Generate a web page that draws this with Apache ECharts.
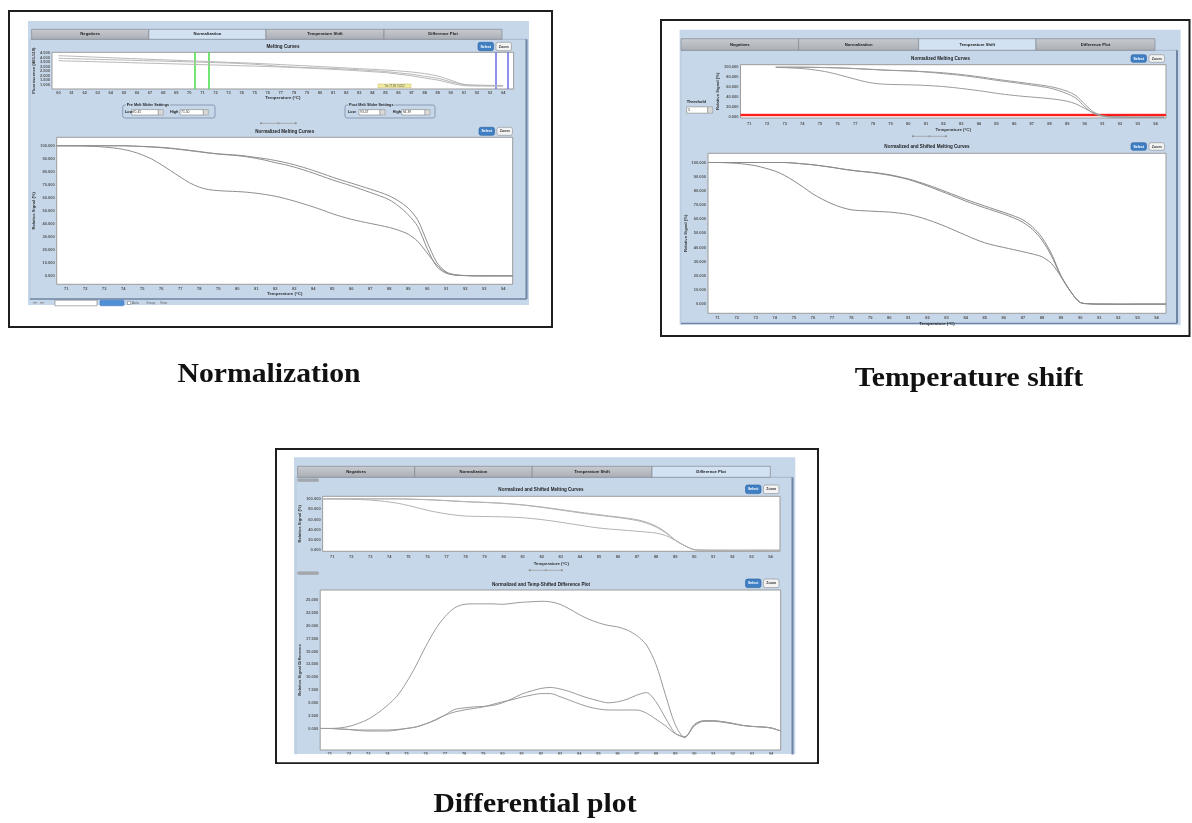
<!DOCTYPE html>
<html>
<head>
<meta charset="utf-8">
<script src="https://cdn.jsdelivr.net/npm/echarts@6/dist/echarts.min.js"></script>
<style>
  html, body { margin: 0; padding: 0; background: #ffffff; }
  #chart { width: 1192px; height: 823px; }
</style>
</head>
<body>
<div id="chart"></div>
<script>
// ---- data -------------------------------------------------------------
// raw melting curves (fluorescence), 60..94 °C
const rawTemps = [60,61,62,63,64,65,66,67,68,69,70,71,72,73,74,75,76,77,78,79,80,81,82,83,84,85,86,87,88,89,90,91,92,93,94];
const raw1 = [4.22,4.17,4.11,4.05,3.99,3.93,3.88,3.82,3.76,3.71,3.65,3.60,3.54,3.48,3.43,3.37,3.30,3.23,3.15,3.08,3.00,2.93,2.85,2.77,2.70,2.62,2.52,2.40,2.22,1.95,1.48,1.02,0.93,0.91,0.90];
const raw2 = [3.93,3.89,3.85,3.81,3.77,3.73,3.69,3.65,3.61,3.57,3.53,3.49,3.45,3.40,3.34,3.26,3.15,3.03,2.95,2.89,2.84,2.78,2.72,2.64,2.55,2.45,2.30,2.15,1.92,1.70,1.30,0.98,0.90,0.88,0.87];
const raw3 = [3.66,3.62,3.58,3.54,3.50,3.46,3.42,3.38,3.34,3.30,3.26,3.22,3.18,3.14,3.10,3.06,3.01,2.96,2.90,2.84,2.77,2.70,2.62,2.53,2.43,2.33,2.15,1.98,1.72,1.50,1.15,0.88,0.84,0.82,0.81];

// normalized / shifted / difference curves, 70.5..94.5 °C
const temps = [70.5,71,71.5,72,72.5,73,73.5,74,74.5,75,75.5,76,76.5,77,77.5,78,78.5,79,79.5,80,80.5,81,81.5,82,82.5,83,83.5,84,84.5,85,85.5,86,86.5,87,87.5,88,88.5,89,89.5,90,90.5,91,91.5,92,92.5,93,93.5,94,94.5];
const normA = [100,100,100,99.8,99.5,99.0,98.3,97.2,95.5,93.0,89.8,85.5,80.8,76.0,71.5,68.2,66.3,65.5,65.1,64.8,64.3,63.5,62.5,61.2,59.5,57.5,55.3,53.0,50.5,47.8,45.5,43.5,41.8,40.3,38.8,37.2,35.0,32.0,26.5,17.5,8.5,2.5,0.6,0.2,0,0,0.1,0,0];
const normB = [100,100,100,100,100,100,100,100,99.8,99.5,99.2,98.8,98.2,97.4,96.5,95.6,94.6,93.8,93.3,92.8,92.0,91.0,90.0,88.7,87.2,85.4,83.3,81.0,78.5,75.9,73.5,71.3,69.0,66.7,64.3,61.5,57.5,52.0,43.0,26.0,10.5,3.0,0.8,0.3,0.1,0,0,0,0];
const normC = [100,100,100,100,100,100,100,100,99.7,99.4,99.0,98.5,97.9,97.1,96.2,95.3,94.4,93.6,93.0,92.4,91.5,90.3,88.8,87.0,85.5,83.6,81.4,79.0,76.4,73.8,71.5,69.2,66.7,64.1,61.5,58.5,53.5,47.0,38.0,21.0,7.2,2.0,0.5,0.2,0,0,0,0,0];
const shiftA = [100,100,99.8,99.4,98.7,97.7,96.0,94.0,91.0,87.0,82.5,77.8,74.0,70.8,68.3,66.6,66.0,65.7,65.3,65.0,64.3,63.3,61.7,59.6,57.2,54.5,51.6,48.7,45.8,43.3,41.5,40.0,38.5,37.0,35.4,33.4,28.7,19.4,8.9,1.2,0.2,0,0,-0.2,-0.2,0,0,0,0];
const shiftB = [100,100,100,100,100,100,100,100,100,99.6,99.0,98.4,97.5,96.6,95.5,94.6,93.8,93.2,92.4,91.4,90.0,88.4,86.4,84.2,81.8,79.2,76.6,74.0,71.6,69.3,67.0,64.8,62.4,59.5,54.5,47.0,35.5,20.0,9.0,1.2,0.2,0,0,0,0,0,0,0,0];
const shiftC = [100,100,100,100,100,100,100,100,100,99.6,99.0,98.4,97.5,96.6,95.5,94.5,93.7,93.0,92.1,91.0,89.6,88.0,85.8,83.4,80.8,78.2,75.5,72.8,70.3,68.0,65.8,63.6,61.0,57.8,52.8,45.2,34.0,19.5,8.8,1.2,0.2,0,0,0,0,0,0,0,0];
const diffA = [0,0,0.1,0.4,1.0,1.8,3.0,4.5,6.3,9.0,12.3,16.0,19.3,21.8,23.5,24.2,24.3,24.3,24.3,24.2,24.4,24.6,24.7,24.8,24.7,24.2,23.3,22.2,21.3,20.6,20.1,19.8,19.2,18.1,16.3,12.5,6.5,0.8,-1.8,0.8,1.5,1.5,1.3,1.0,0.6,0.4,0.3,0.1,-0.5];
const diffB = [0,0,-0.1,-0.2,-0.3,-0.3,-0.3,-0.3,-0.2,0,0.3,0.9,1.6,2.6,3.7,4.0,4.2,4.3,4.5,5.0,5.8,6.7,7.3,7.8,8.0,7.7,7.2,6.5,5.9,5.4,5.0,5.2,5.7,6.5,7.0,5.2,2.0,-0.9,-1.7,0.6,1.5,1.5,1.3,1.0,0.6,0.4,0.3,0.1,-0.5];
const diffC = [0,0,-0.1,-0.2,-0.4,-0.5,-0.5,-0.5,-0.3,0,0.3,0.9,1.7,2.6,3.2,3.6,3.9,4.2,4.7,5.2,5.6,6.1,6.5,6.8,6.8,6.2,5.5,4.8,4.2,3.8,3.6,3.6,3.6,3.6,3.0,1.8,0.5,-1.0,-1.6,0.5,1.4,1.4,1.2,0.9,0.6,0.4,0.3,0.1,-0.5];

// tick labels
const rawTempTicks = [60,61,62,63,64,65,66,67,68,69,70,71,72,73,74,75,76,77,78,79,80,81,82,83,84,85,86,87,88,89,90,91,92,93,94];
const tempTicks = [71,72,73,74,75,76,77,78,79,80,81,82,83,84,85,86,87,88,89,90,91,92,93,94];
const rawSignalTicks = [1.0,1.5,2.0,2.5,3.0,3.5,4.0,4.5];
const signalTicks = [0,10,20,30,40,50,60,70,80,90,100];
const signalTicksCoarse = [0,20,40,60,80,100];
const diffTicks = [0,2.5,5,7.5,10,12.5,15,17.5,20,22.5,25];

// settings shown in the panels
const preMelt = [70.45, 71.50];
const postMelt = [93.47, 94.39];
const threshold = 5;
const tabNames = ['Negatives', 'Normalization', 'Temperature Shift', 'Difference Plot'];
const captions = ['Normalization', 'Temperature shift', 'Differential plot'];

// ---- helpers ----------------------------------------------------------
const UI_FONT = '"Liberation Sans", Arial, sans-serif';
const PANEL_BLUE = '#c6d7ea';
const g = [];
function R(x, y, w, h, fill, stroke, lw, z, r) {
  g.push({ type: 'rect', silent: true, z: z == null ? 1 : z,
    shape: { x, y, width: w, height: h, r: r || 0 },
    style: { fill: fill || 'transparent', stroke: stroke || null, lineWidth: lw || 0 } });
}
function T(x, y, text, size, opt) {
  opt = opt || {};
  const st = { text, fill: opt.color || '#222',
    font: (opt.weight || 'bold') + ' ' + size + 'px ' + (opt.family || UI_FONT),
    textAlign: opt.align || 'left', textVerticalAlign: opt.valign || 'middle' };
  if (opt.bg) { st.backgroundColor = opt.bg; st.padding = [0, 1]; }
  g.push({ type: 'text', silent: true, z: opt.z == null ? 4 : opt.z, x, y, style: st });
}
function L(x1, y1, x2, y2, stroke, lw, z) {
  g.push({ type: 'line', silent: true, z: z == null ? 2 : z, shape: { x1, y1, x2, y2 }, style: { stroke, lineWidth: lw } });
}
function buttons(x, y, h) {
  R(x, y, 15.5, h, '#3f7fc4', '#2c5f98', 0.6, 4, 2);
  T(x + 7.75, y + h / 2, 'Select', 3.6, { color: '#ffffff', align: 'center' });
  R(x + 18, y, 15.5, h, '#f3f3f3', '#8a8a8a', 0.6, 4, 2);
  T(x + 25.75, y + h / 2, 'Zoom', 3.6, { color: '#333', align: 'center' });
}
function splitter(x1, x2, y) {
  L(x1, y, x2, y, '#aeb2b8', 1.2, 3);
  R(x1, y - 1, 2, 2, '#8c8c8c', null, 0, 4, 1);
  R(x2 - 2, y - 1, 2, 2, '#8c8c8c', null, 0, 4, 1);
  R((x1 + x2) / 2 - 1, y - 1, 2, 2, '#999', null, 0, 4, 1);
}

// ---- panel chrome -----------------------------------------------------
const panels = [
  { frame: [9, 11, 543, 316], blue: [28, 21, 501, 284], tabY: 29.3, tabH: 10,
    tabX: [31.6, 148.8, 266, 384, 502], sel: 1, content: [30, 39.3, 496.5, 259.7] },
  { frame: [661, 20, 528.5, 316], blue: [679.6, 29.7, 501, 295.3], tabY: 38.7, tabH: 11.6,
    tabX: [681, 798.6, 918.6, 1036, 1155], sel: 2, content: [681, 50.3, 496, 273] },
  { frame: [276, 449, 542, 314], blue: [294, 457.3, 501.3, 296.7], tabY: 466.3, tabH: 11,
    tabX: [297.6, 414.7, 532.2, 652, 770.3], sel: 3, content: [296, 477.3, 496.5, 280] }
];
panels.forEach(function (p) {
  R(p.frame[0], p.frame[1], p.frame[2], p.frame[3], '#ffffff', '#1e1e1e', 2, 0);
  R(p.blue[0], p.blue[1], p.blue[2], p.blue[3], PANEL_BLUE, null, 0, 1);
  const c = p.content;
  L(c[0], c[1], c[0] + c[2], c[1], '#9fb1c8', 0.8, 2);
  L(c[0] + c[2], c[1], c[0] + c[2], c[1] + c[3], '#6f84a3', 2, 2);
  L(c[0], c[1], c[0], c[1] + c[3], '#b3c3d6', 0.8, 2);
  for (let i = 0; i < 4; i++) {
    const x = p.tabX[i], w = p.tabX[i + 1] - x;
    const fill = i === p.sel ? '#d2e2f2' : { type: 'linear', x: 0, y: 0, x2: 0, y2: 1,
      colorStops: [{ offset: 0, color: '#c8cbd0' }, { offset: 1, color: '#aaaeb4' }] };
    R(x, p.tabY, w, p.tabH, fill, '#858a92', 0.7, 2);
    T(x + w / 2, p.tabY + p.tabH / 2, tabNames[i], 4.2, { align: 'center', color: '#1c1c1c' });
  }
});
// bottom of the normalization panel: frame line and toolbar
L(30, 299, 526.5, 299, '#6f84a3', 1.5, 2);
L(33, 302.8, 37, 302.8, '#8a8a8a', 1, 3);
L(40, 302.8, 44, 302.8, '#8a8a8a', 1, 3);
R(55, 300.2, 42, 5.6, '#ffffff', '#7a7a7a', 0.6, 3);
R(100, 300.2, 24, 5.6, '#4f8fd6', '#3b74b5', 0.5, 3, 1);
R(127.5, 301.3, 3.2, 3.2, '#ffffff', '#666', 0.5, 3);
T(132, 302.8, 'Auto', 3.4, { color: '#666', weight: 'normal' });
T(146, 302.8, 'Group', 3.4, { color: '#666', weight: 'normal' });
T(160, 302.8, 'View', 3.4, { color: '#666', weight: 'normal' });
// shift panel bottom edge
L(681, 323.3, 1177, 323.3, '#6f84a3', 1.2, 2);
// diff panel collapse handles
R(297.6, 478.8, 21, 2.6, '#a7a9ad', '#8d9096', 0.4, 3, 1);
R(297.6, 571.8, 21, 2.6, '#a7a9ad', '#8d9096', 0.4, 3, 1);

// chart titles
T(283, 46.7, 'Melting Curves', 4.6, { align: 'center' });
T(284.7, 132, 'Normalized Melting Curves', 4.6, { align: 'center' });
T(940.6, 58.7, 'Normalized Melting Curves', 4.6, { align: 'center' });
T(927, 146.7, 'Normalized and Shifted Melting Curves', 4.6, { align: 'center' });
T(541, 489.7, 'Normalized and Shifted Melting Curves', 4.6, { align: 'center' });
T(541, 584.3, 'Normalized and Temp-Shifted Difference Plot', 4.6, { align: 'center' });

// select / zoom buttons
buttons(478, 42.3, 8.4);
buttons(479, 127.3, 8);
buttons(1131, 54.7, 7.6);
buttons(1131, 142.7, 7.6);
buttons(745.5, 485, 8.6);
buttons(745.5, 579, 8.6);

// slider setting boxes (normalization)
function meltBox(x, w, title, vals, lowX, inX, inW, highX, in2X, in2W) {
  R(x, 105, w, 13, null, '#7b8ca5', 0.8, 2, 2);
  T(x + 3, 105, title, 3.8, { bg: PANEL_BLUE });
  T(lowX, 112.3, 'Low', 3.8);
  R(inX, 109.6, inW, 5.4, '#ffffff', '#7f7f7f', 0.6, 3);
  T(inX + 1, 112.3, vals[0].toFixed(2), 3.4, { weight: 'normal', color: '#333' });
  R(inX + inW, 109.6, 5, 5.4, '#d8d8d8', '#8a8a8a', 0.5, 3);
  T(highX, 112.3, 'High', 3.8);
  R(in2X, 109.6, in2W, 5.4, '#ffffff', '#7f7f7f', 0.6, 3);
  T(in2X + 1, 112.3, vals[1].toFixed(2), 3.4, { weight: 'normal', color: '#333' });
  R(in2X + in2W, 109.6, 5, 5.4, '#d8d8d8', '#8a8a8a', 0.5, 3);
}
meltBox(122.7, 92.3, 'Pre Melt Slider Settings', preMelt, 125, 131.7, 26.6, 170, 180, 23.3);
meltBox(345, 90, 'Post Melt Slider Settings', postMelt, 348, 359, 21, 392.7, 401.7, 23.3);
// cursor note in the raw plot
R(378, 84, 33, 3.6, '#f2eca2', '#c8bd58', 0.5, 20);
T(394.5, 85.8, 'Tm 77.89 / 5252', 2.8, { align: 'center', weight: 'normal', color: '#555', z: 21 });

// threshold control (temperature shift)
T(686.7, 101.6, 'Threshold', 4);
R(686.7, 106.8, 21, 6.4, '#ffffff', '#7f7f7f', 0.6, 3);
T(688, 110, String(threshold), 3.8, { weight: 'normal', color: '#333' });
R(707.7, 106.8, 5, 6.4, '#d8d8d8', '#8a8a8a', 0.5, 3);

// splitters
splitter(260, 296.7, 123.3);
splitter(912, 947, 136.3);
splitter(528.7, 562.8, 570.3);

// white strip below the difference panel (clips the last axis row)
R(277.5, 754.4, 539, 7.8, '#ffffff', null, 0, 50);

// figure captions (bold serif, slightly wide)
const capFont = 'bold 27px "Liberation Serif", "Times New Roman", serif';
[[269, 375, captions[0]], [969, 379, captions[1]], [535, 805, captions[2]]].forEach(function (c) {
  g.push({ type: 'text', silent: true, z: 5, x: c[0], y: c[1], scaleX: 1.1, scaleY: 1,
    style: { text: c[2], fill: '#111', font: capFont, textAlign: 'center', textVerticalAlign: 'middle' } });
});

// ---- grids, axes, series ---------------------------------------------
const grids = [
  { left: 52, top: 52.3, width: 461.6, height: 36.7 },
  { left: 56.7, top: 137.3, width: 456, height: 147 },
  { left: 740.5, top: 64.7, width: 425.5, height: 53.3 },
  { left: 708, top: 153.3, width: 458, height: 160 },
  { left: 322.6, top: 496.3, width: 457.4, height: 55 },
  { left: 320.2, top: 590, width: 460.5, height: 160 }
].map(function (gr) {
  return Object.assign({ show: true, backgroundColor: '#ffffff', borderColor: '#9b9b9b', borderWidth: 1, z: 3, containLabel: false }, gr);
});

const TICK_FONT = 4;
function xAx(idx, min, max, ticks, margin, name, nameGap) {
  return { type: 'value', gridIndex: idx, min, max, z: 5,
    name: name, nameLocation: 'middle', nameGap: nameGap,
    nameTextStyle: { fontSize: 4.4, fontWeight: 'bold', color: '#333', fontFamily: UI_FONT },
    axisLine: { show: false }, axisTick: { show: false }, splitLine: { show: false },
    axisLabel: { customValues: ticks, fontSize: TICK_FONT, fontWeight: 'bold', color: '#555', margin, fontFamily: UI_FONT } };
}
function yAx(idx, min, max, ticks, digits, name, nameGap) {
  return { type: 'value', gridIndex: idx, min, max, z: 5,
    name: name, nameLocation: 'middle', nameGap: nameGap,
    nameTextStyle: { fontSize: 4.2, fontWeight: 'bold', color: '#333', fontFamily: UI_FONT },
    axisLine: { show: false }, axisTick: { show: false }, splitLine: { show: false },
    axisLabel: { customValues: ticks, fontSize: TICK_FONT, fontWeight: 'bold', color: '#555', margin: 2,
      fontFamily: UI_FONT, formatter: function (v) { return v.toFixed(digits); } } };
}
const TEMP = 'Temperature (°C)';
const REL = 'Relative Signal (%)';
const xAxes = [
  xAx(0, 59.5, 94.8, rawTempTicks, 2, TEMP, 7),
  xAx(1, 70.5, 94.5, tempTicks, 2.5, TEMP, 7.5),
  xAx(2, 70.5, 94.6, tempTicks, 4, TEMP, 10),
  xAx(3, 70.5, 94.5, tempTicks, 3, TEMP, 8),
  xAx(4, 70.5, 94.5, tempTicks, 3.5, TEMP, 10),
  xAx(5, 70.5, 94.5, tempTicks, 2, '', 10)
];
const yAxes = [
  yAx(0, 0.5, 4.6, rawSignalTicks, 3, 'Fluorescence (465-510)', 12),
  yAx(1, -6.5, 106.5, signalTicks, 3, REL, 17),
  yAx(2, -1.6, 105, signalTicksCoarse, 3, REL, 18),
  yAx(3, -6.5, 106.5, signalTicks, 3, REL, 18),
  yAx(4, -2, 105, signalTicksCoarse, 3, REL, 18.5),
  yAx(5, -4.2, 27, diffTicks, 3, 'Relative Signal Difference', 15.5)
];

function curve(idx, xs, ys, color, from) {
  const start = from || 0;
  const data = [];
  for (let i = start; i < xs.length; i++) data.push([xs[i], ys[i]]);
  return { type: 'line', xAxisIndex: idx, yAxisIndex: idx, data, symbol: 'none', showSymbol: false,
    smooth: 0.3, silent: true, z: 6, lineStyle: { color, width: 1 } };
}

const series = [];
// raw melting curves with pre/post melt windows
[raw1, raw2, raw3].forEach(function (ys) { series.push(curve(0, rawTemps, ys, '#b9b9b9')); });
series[0].markArea = { silent: true, itemStyle: { color: 'rgba(165,165,165,0.42)' },
  data: [[{ xAxis: preMelt[0] }, { xAxis: preMelt[1] }], [{ xAxis: postMelt[0] }, { xAxis: postMelt[1] }]] };
series[0].markLine = { silent: true, symbol: 'none', label: { show: false }, animation: false,
  data: [
    { xAxis: preMelt[0], lineStyle: { color: '#45dc45', width: 1.5, type: 'solid' } },
    { xAxis: preMelt[1], lineStyle: { color: '#45dc45', width: 1.5, type: 'solid' } },
    { xAxis: postMelt[0], lineStyle: { color: '#6b6be8', width: 1.5, type: 'solid' } },
    { xAxis: postMelt[1], lineStyle: { color: '#6b6be8', width: 1.5, type: 'solid' } }
  ] };
// normalized curves
[normA, normB, normC].forEach(function (ys) { series.push(curve(1, temps, ys, '#8e8e8e')); });
// normalized curves with threshold (temperature shift)
const from725 = temps.indexOf(72.5);
const firstShiftTop = series.length;
[normA, normB, normC].forEach(function (ys) { series.push(curve(2, temps, ys, '#9a9a9a', from725)); });
series[firstShiftTop].markLine = { silent: true, symbol: 'none', label: { show: false }, animation: false,
  data: [
    { yAxis: threshold, lineStyle: { color: 'rgba(255,110,110,0.3)', width: 4, type: 'solid' } },
    { yAxis: threshold, lineStyle: { color: '#ff1c1c', width: 1.8, type: 'solid' } }
  ] };
// normalized and shifted curves
[shiftA, shiftB, shiftC].forEach(function (ys) { series.push(curve(3, temps, ys, '#8a8a8a')); });
[shiftA, shiftB, shiftC].forEach(function (ys) { series.push(curve(4, temps, ys, '#b2b2b2')); });
// difference plot
[diffA, diffB, diffC].forEach(function (ys) { series.push(curve(5, temps, ys, '#9a9a9a')); });

const chart = echarts.init(document.getElementById('chart'), null, { renderer: 'canvas' });
chart.setOption({
  animation: false,
  backgroundColor: '#ffffff',
  grid: grids,
  xAxis: xAxes,
  yAxis: yAxes,
  series: series,
  graphic: { elements: g }
});
</script>
</body>
</html>
